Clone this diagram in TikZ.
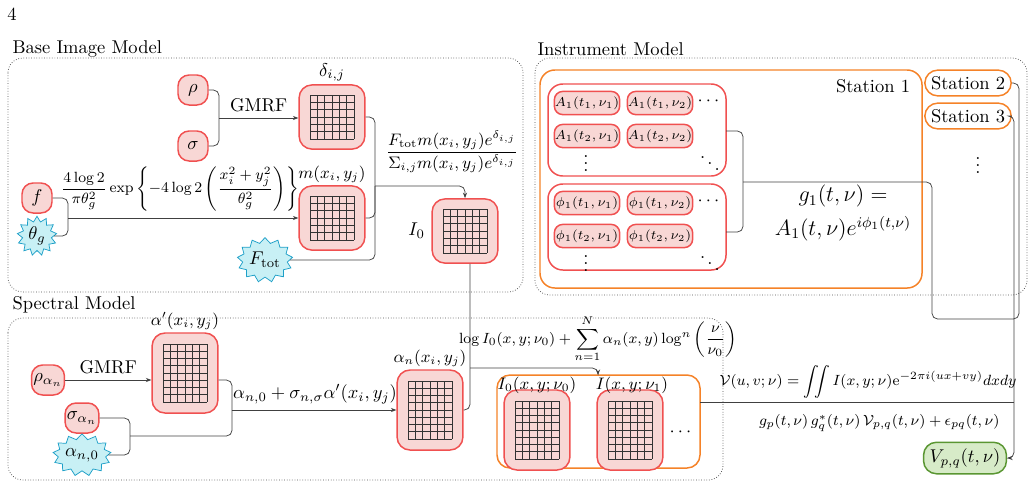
\documentclass[tikz,border=0pt]{standalone}
\usepackage{amsmath,amssymb}
\usetikzlibrary{arrows.meta,positioning,shapes.symbols}
\definecolor{redline}{RGB}{240,80,80}
\definecolor{redfill}{RGB}{248,215,213}
\definecolor{cyanline}{RGB}{30,160,200}
\definecolor{cyanfill}{RGB}{200,240,245}
\definecolor{orangeline}{RGB}{245,130,40}
\definecolor{greenline}{RGB}{90,150,50}
\definecolor{greenfill}{RGB}{215,235,200}
\tikzset{
  param/.style={draw=redline, fill=redfill, line width=0.8pt, rounded corners=6pt, minimum width=0.57cm, minimum height=0.57cm, inner sep=1pt},
  fixed/.style={starburst, starburst points=13, starburst point height=0.1cm, random starburst=0, draw=cyanline, fill=cyanfill, inner sep=0pt, minimum size=0.75cm},
  field/.style={draw=redline, fill=redfill, line width=0.8pt, rounded corners=7pt, minimum width=1.25cm, minimum height=1.22cm},
  tallfield/.style={field, minimum height=1.52cm},
  gain/.style={draw=redline, fill=redfill, line width=0.8pt, rounded corners=4.5pt, minimum width=1.24cm, minimum height=0.44cm, inner sep=0pt, font=\scriptsize},
  group/.style={draw=redline, line width=0.8pt, rounded corners=8pt},
  station/.style={draw=orangeline, line width=0.8pt, rounded corners=7pt, minimum width=1.52cm, minimum height=0.44cm},
  model/.style={draw=black!70, densely dotted, rounded corners=8pt},
  wire/.style={draw=black!75, rounded corners=3pt},
  arrow/.style={wire, -{Stealth[length=3pt]}},
}
\begin{document}
\begin{tikzpicture}[x=0.019cm, y=-0.019cm]
\useasboundingbox (0,0) rectangle (1033,486);
\node at (12,14) {4};

% base image model
\node [anchor=west] at (6,49) {Base Image Model};
\draw [model] (8,58) rectangle (523,292);
\node (rho) [param] at (193,90) {$\rho$};
\node (sigma) [param] at (193,146) {$\sigma$};
\node (delta) [field] at (332,117) {};
\node [above=-2pt of delta] {$\delta_{i,j}$};
\node (f) [param] at (37,198) {$f$};
\node (thetag) [fixed] at (37,236) {$\theta_g$};
\node (m) [field] at (332,218) {};
\node [above=-2pt of m, font=\small] {$m(x_i,y_j)$};
\node (Ftot) [fixed, minimum size=0.85cm] at (265,260) {$F_{\mathrm{tot}}$};
\node (I0) [field] at (465,231) {};
\node [left=0pt of I0] {$I_0$};

\coordinate (jrs) at (219,118);
\coordinate (jft) at (68,218);
\coordinate (jb) at (375,186);
\draw [wire] (rho.east) -| (jrs) |- (sigma.east);
\draw [arrow] (jrs) -- node [above] {GMRF} (jrs -| delta.west);
\draw [wire] (f.east) -| (jft) |- (thetag.east);
\draw [arrow] (jft) -- (jft -| m.west);
\node [font=\footnotesize] at (180,189) {$\dfrac{4\log 2}{\pi\theta_g^2}\exp\left\{-4\log2\left(\dfrac{x_i^2+y_j^2}{\theta_g^2}\right)\right\}$};
\draw [wire] (delta.east) -| (jb) |- (Ftot.east);
\draw [wire] (jft -| m.east) -| (jb);
\draw [arrow] (jb) -| (I0.north);
\node [font=\small] at (452,152) {$\dfrac{F_{\mathrm{tot}}m(x_i,y_j)e^{\delta_{i,j}}}{\Sigma_{i,j}m(x_i,y_j)e^{\delta_{i,j}}}$};

% instrument model
\node [anchor=west] at (531,49) {Instrument Model};
\draw [model] (535,58) rectangle (1027,295);
\draw [orangeline, line width=0.8pt, rounded corners=8pt] (540,70) rectangle (922,288);
\node at (873,86) {Station 1};
\node (st2) [station] at (968,83) {Station 2};
\node (st3) [station] at (968,116) {Station 3};
\node at (978,160) {$\vdots$};
\draw [group] (548,84) rectangle (726,176);
\draw [group] (548,184) rectangle (726,270);
\foreach \r/\t [count=\i] in {103/1,136/2} {
  \node (A\i1) [gain] at (587,\r) {$A_1(t_{\t},\nu_1)$};
  \node (A\i2) [gain] at (660,\r) {$A_1(t_{\t},\nu_2)$};
  \node (p\i1) [gain] at (587,\r+100) {$\phi_1(t_{\t},\nu_1)$};
  \node (p\i2) [gain] at (660,\r+100) {$\phi_1(t_{\t},\nu_2)$};
}
\foreach \dy in {0,100} {
  \node at (710,101+\dy) {$\cdots$};
  \node at (586,158+\dy) {$\vdots$};
  \node at (710,158+\dy) {$\ddots$};
}
\node (gone) [font=\large, align=center] at (843,213) {$g_1(t,\nu)=$\\[4pt]$A_1(t,\nu)e^{i\phi_1(t,\nu)}$};
\coordinate (jg) at (743,182);
\draw [wire] (726,131) -| (jg) |- (726,232);
\draw [wire] (jg) -| (932,319) -| (1019,83) -- (st2.east);
\coordinate (jv) at (1014,402);

% spectral model
\node [anchor=west] at (6,305) {Spectral Model};
\draw [model] (8,318) rectangle (723,480);
\node (rhoa) [param] at (48,380) {$\rho_{\alpha_n}$};
\node (sigmaa) [param] at (82,418) {$\sigma_{\alpha_n}$};
\node (alphaz) [fixed, minimum size=0.8cm] at (82,455) {$\alpha_{n,0}$};
\node (alphap) [tallfield] at (185,373) {};
\node [above=-2pt of alphap, font=\small] {$\alpha'(x_i,y_j)$};
\node (alphan) [tallfield] at (430,410) {};
\node [above=-2pt of alphan, font=\small] {$\alpha_n(x_i,y_j)$};
\draw [orangeline, line width=0.8pt, rounded corners=7pt] (497,375) rectangle (700,468);
\node (Inu0) [tallfield] at (537,430) {};
\node (Inu1) [tallfield] at (630,430) {};
\node [font=\small] at (537,385) {$I_0(x,y;\nu_0)$};
\node [font=\small] at (632,385) {$I(x,y;\nu_1)$};
\node at (682,432) {$\cdots$};
\node (Vpq) [draw=greenline, fill=greenfill, line width=0.8pt, rounded corners=7pt, minimum width=1.5cm, minimum height=0.57cm] at (965,458) {$V_{p,q}(t,\nu)$};

% grids
\foreach \g in {delta,m,I0} {
  \foreach \k in {0,...,6} {
    \draw [black!80, line width=0.4pt] (\g.center) ++(-22+7.33*\k,-22) -- ++(0,44);
    \draw [black!80, line width=0.4pt] (\g.center) ++(-22,-22+7.33*\k) -- ++(44,0);
  }
}
\foreach \g in {alphap,alphan,Inu0,Inu1} {
  \foreach \k in {0,...,6} \draw [black!80, line width=0.4pt] (\g.center) ++(-22+7.33*\k,-29) -- ++(0,58);
  \foreach \k in {0,...,8} \draw [black!80, line width=0.4pt] (\g.center) ++(-22,-29+7.25*\k) -- ++(44,0);
}

\coordinate (jsa) at (130,436);
\coordinate (jal) at (232,410);
\coordinate (jI) at (470,368);
\draw [arrow] (rhoa.east) -- node [above] {GMRF} (rhoa.east -| alphap.west);
\draw [wire] (sigmaa.east) -| (jsa) |- (alphaz.east);
\draw [wire] (jsa) -| (jal);
\draw [wire] (alphap.east |- rhoa) -| (jal);
\draw [arrow] (jal) -- (jal -| alphan.west);
\node at (315,394) {$\alpha_{n,0}+\sigma_{n,\sigma}\alpha'(x_i,y_j)$};
\draw [wire] (I0.south -| jI) -- (jI) |- (alphan.east);
\draw [arrow] (jI) -| (598,375);
\node [font=\footnotesize] at (598,339) {$\log I_0(x,y;\nu_0)+\displaystyle\sum_{n=1}^{N}\alpha_n(x,y)\log^n\left(\frac{\nu}{\nu_0}\right)$};
\draw [wire] (700,402) -- (jv);
\node [font=\footnotesize] at (868,382) {$\mathcal{V}(u,v;\nu)=\displaystyle\iint I(x,y;\nu)\mathrm{e}^{-2\pi i(ux+vy)}dxdy$};
\draw [arrow] (st3.east) -| (jv) |- (Vpq.east);
\node [font=\footnotesize, anchor=east] at (1006,423) {$g_p(t,\nu)\,g_q^*(t,\nu)\,\mathcal{V}_{p,q}(t,\nu)+\epsilon_{pq}(t,\nu)$};
\end{tikzpicture}
\end{document}
